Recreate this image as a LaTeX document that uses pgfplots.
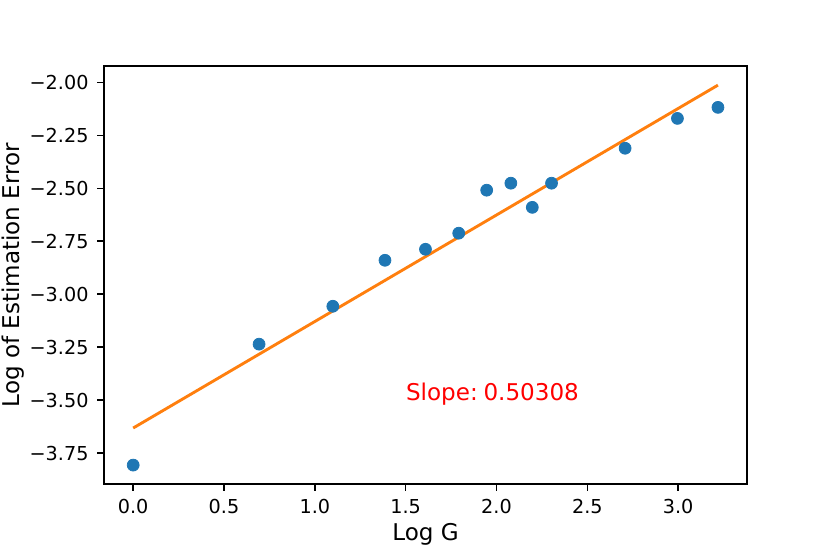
\documentclass[border=0pt]{standalone}
\usepackage{pgfplots}
\pgfplotsset{compat=1.18}
\usepackage{fontspec}
\setmainfont{DejaVu Sans}
\definecolor{c0}{HTML}{1F77B4}
\definecolor{c1}{HTML}{FF7F0E}
\begin{document}
\begin{tikzpicture}
\path[use as bounding box] (-54.1pt,-36.4pt) rectangle (377.9pt,252.0pt);
\begin{axis}[
  at={(0,0)}, anchor=south west,
  scale only axis, width=334.8pt, height=217.6pt,
  xmin=-0.161, xmax=3.380, ymin=-3.897, ymax=-1.923,
  axis line style={line width=0.8pt},
  tick style={line width=0.8pt, black},
  tick align=outside, major tick length=3.5pt,
  xtick pos=bottom, ytick pos=left,
  xtick={0,0.5,1,1.5,2,2.5,3},
  xticklabels={0.0,0.5,1.0,1.5,2.0,2.5,3.0},
  ytick={-3.75,-3.5,-3.25,-3,-2.75,-2.5,-2.25,-2},
  yticklabels={−3.75,−3.50,−3.25,−3.00,−2.75,−2.50,−2.25,−2.00},
  ticklabel style={font=\fontsize{10}{12}\selectfont},
  xticklabel style={yshift=-1pt},
  yticklabel style={xshift=-1pt},
  xlabel={Log G}, ylabel={Log of Estimation Error},
  label style={font=\fontsize{12}{14}\selectfont},
  xlabel style={yshift=2pt},
  ylabel style={yshift=-4pt},
  clip=false,
]
\addplot[only marks, mark=*, mark size=3.1pt, c0, mark options={draw=c0, fill=c0}] coordinates {
(0.000,-3.807) (0.693,-3.236) (1.099,-3.057) (1.386,-2.840) (1.609,-2.788)
(1.792,-2.712) (1.946,-2.509) (2.079,-2.476) (2.197,-2.590) (2.303,-2.476)
(2.708,-2.311) (2.996,-2.170) (3.219,-2.118)
};
\addplot[c1, line width=1.5pt] coordinates {(0.000,-3.632) (3.219,-2.013)};
\node[anchor=base west, text=red, font=\fontsize{12}{14}\selectfont, inner sep=0pt] at (axis cs:1.5,-3.5) {Slope:\hspace{0.25em}0.50308};
\end{axis}
\end{tikzpicture}
\end{document}
